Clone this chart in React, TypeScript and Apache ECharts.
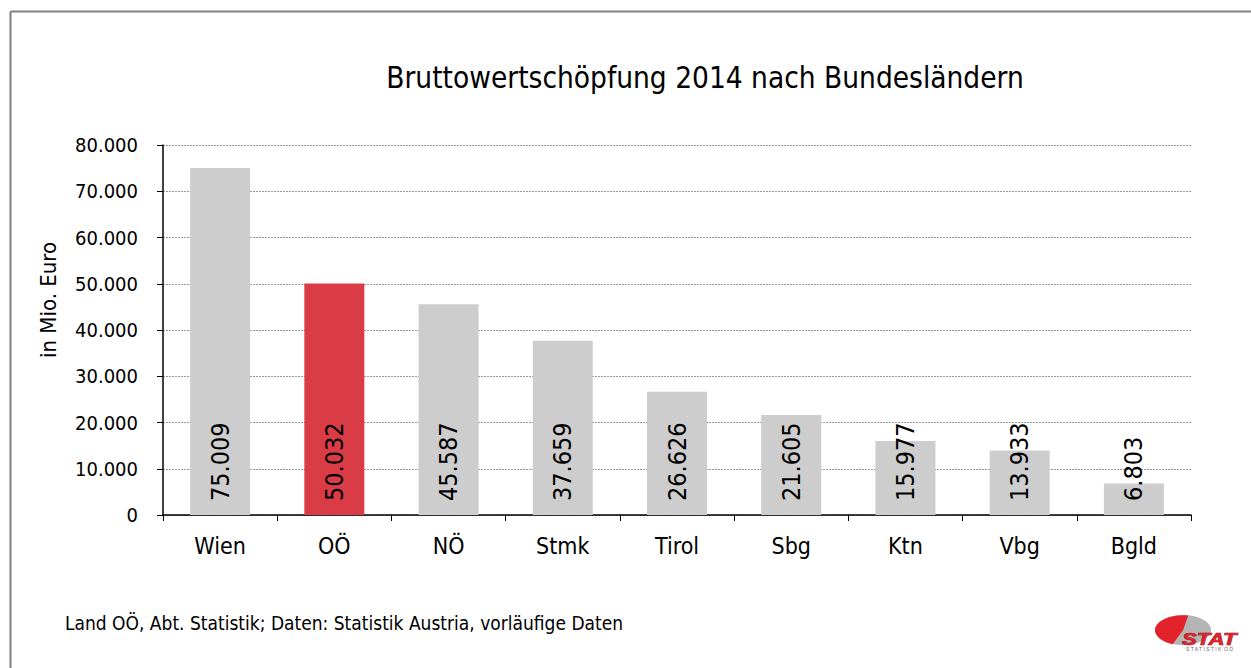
import React, { useEffect, useRef } from "react";
import * as echarts from "echarts";

const categories = ["Wien", "OÖ", "NÖ", "Stmk", "Tirol", "Sbg", "Ktn", "Vbg", "Bgld"];
const values = [75009, 50032, 45587, 37659, 26626, 21605, 15977, 13933, 6803];
const highlight = "OÖ";
const titleText = "Bruttowertschöpfung 2014 nach Bundesländern";
const yAxisName = "in Mio. Euro";
const sourceText = "Land OÖ, Abt. Statistik; Daten: Statistik Austria, vorläufige Daten";

const fmt = (v: number) => String(v).replace(/\B(?=(\d{3})+(?!\d))/g, ".");
const FONT = "'DejaVu Sans Condensed', 'Liberation Sans', Arial, sans-serif";
const LOGO_FONT = "'Liberation Sans', Arial, sans-serif";

export default function App() {
  const ref = useRef<HTMLDivElement>(null);
  useEffect(() => {
    if (!ref.current) return;
    const chart = echarts.init(ref.current, null, { renderer: "svg" });
    chart.setOption({
      animation: false,
      backgroundColor: "#ffffff",
      textStyle: { fontFamily: FONT },
      title: {
        text: titleText,
        left: 700,
        top: 58,
        textAlign: "center",
        textStyle: { fontSize: 29.5, fontWeight: "normal", color: "#000", fontFamily: FONT },
      },
      grid: { left: 163, right: 60, top: 145, bottom: 153, containLabel: false },
      xAxis: {
        type: "category",
        data: categories,
        axisLine: { lineStyle: { color: "#000", width: 1.5 } },
        axisTick: { show: true, length: 6, lineStyle: { color: "#000" } },
        axisLabel: { fontSize: 23, color: "#000", margin: 19, fontFamily: FONT },
      },
      yAxis: {
        type: "value",
        min: 0,
        max: 80000,
        interval: 10000,
        axisLine: { show: true, lineStyle: { color: "#000", width: 1.5 } },
        axisTick: { show: true, length: 6, lineStyle: { color: "#000" } },
        axisLabel: { fontSize: 20, color: "#000", margin: 25, formatter: (v: number) => fmt(v), fontFamily: FONT },
        splitLine: { show: true, lineStyle: { color: "#999", type: [2, 1], width: 1 } },
      },
      series: [
        {
          type: "bar",
          barWidth: 60,
          data: categories.map((c, i) => ({
            value: values[i],
            itemStyle: { color: c === highlight ? "#d93c44" : "#cdcdcd" },
          })),
          label: {
            show: true,
            position: "insideBottom",
            rotate: 90,
            align: "left",
            verticalAlign: "middle",
            distance: 14,
            fontSize: 25,
            color: "#000",
            fontFamily: FONT,
            formatter: (p: any) => fmt(p.value),
          },
        },
      ],
      graphic: [
        { type: "line", shape: { x1: 10.5, y1: 11.5, x2: 1251, y2: 11.5 }, style: { stroke: "#808080", lineWidth: 2 } },
        { type: "line", shape: { x1: 10.5, y1: 11.5, x2: 10.5, y2: 668 }, style: { stroke: "#808080", lineWidth: 2 } },
        {
          type: "text",
          x: 48,
          y: 300,
          rotation: Math.PI / 2,
          style: { text: yAxisName, fontSize: 22, fill: "#000", fontFamily: FONT, align: "center", verticalAlign: "middle" },
        },
        {
          type: "text",
          left: 65,
          top: 613,
          style: { text: sourceText, fontSize: 19, fill: "#000", fontFamily: FONT },
        },
        { type: "ellipse", shape: { cx: 1183, cy: 630, rx: 28, ry: 15 }, style: { fill: "#b5b5b5" } },
        {
          type: "sector",
          shape: { cx: 1183, cy: 630, r: 28, r0: 0, startAngle: Math.PI * 0.62, endAngle: Math.PI * 1.56 },
          scaleY: 15 / 28,
          originX: 1183,
          originY: 630,
          style: { fill: "#e3222b" },
        },
        {
          type: "text",
          x: 1182,
          y: 630,
          scaleX: 1.3,
          originX: 0,
          originY: 0,
          style: { text: "STAT", fontSize: 17, fontWeight: "bold", fontStyle: "italic", fill: "#e3222b", stroke: "#6b0f12", lineWidth: 0.7, fontFamily: LOGO_FONT },
        },
        {
          type: "text",
          x: 1186,
          y: 646,
          style: { text: "S T A T I S T I K  O Ö", fontSize: 5, fill: "#666", fontFamily: LOGO_FONT },
        },
      ],
    });
    return () => chart.dispose();
  }, []);
  return <div ref={ref} style={{ position: "fixed", left: 0, top: 0, width: 1251, height: 668 }} />;
}
